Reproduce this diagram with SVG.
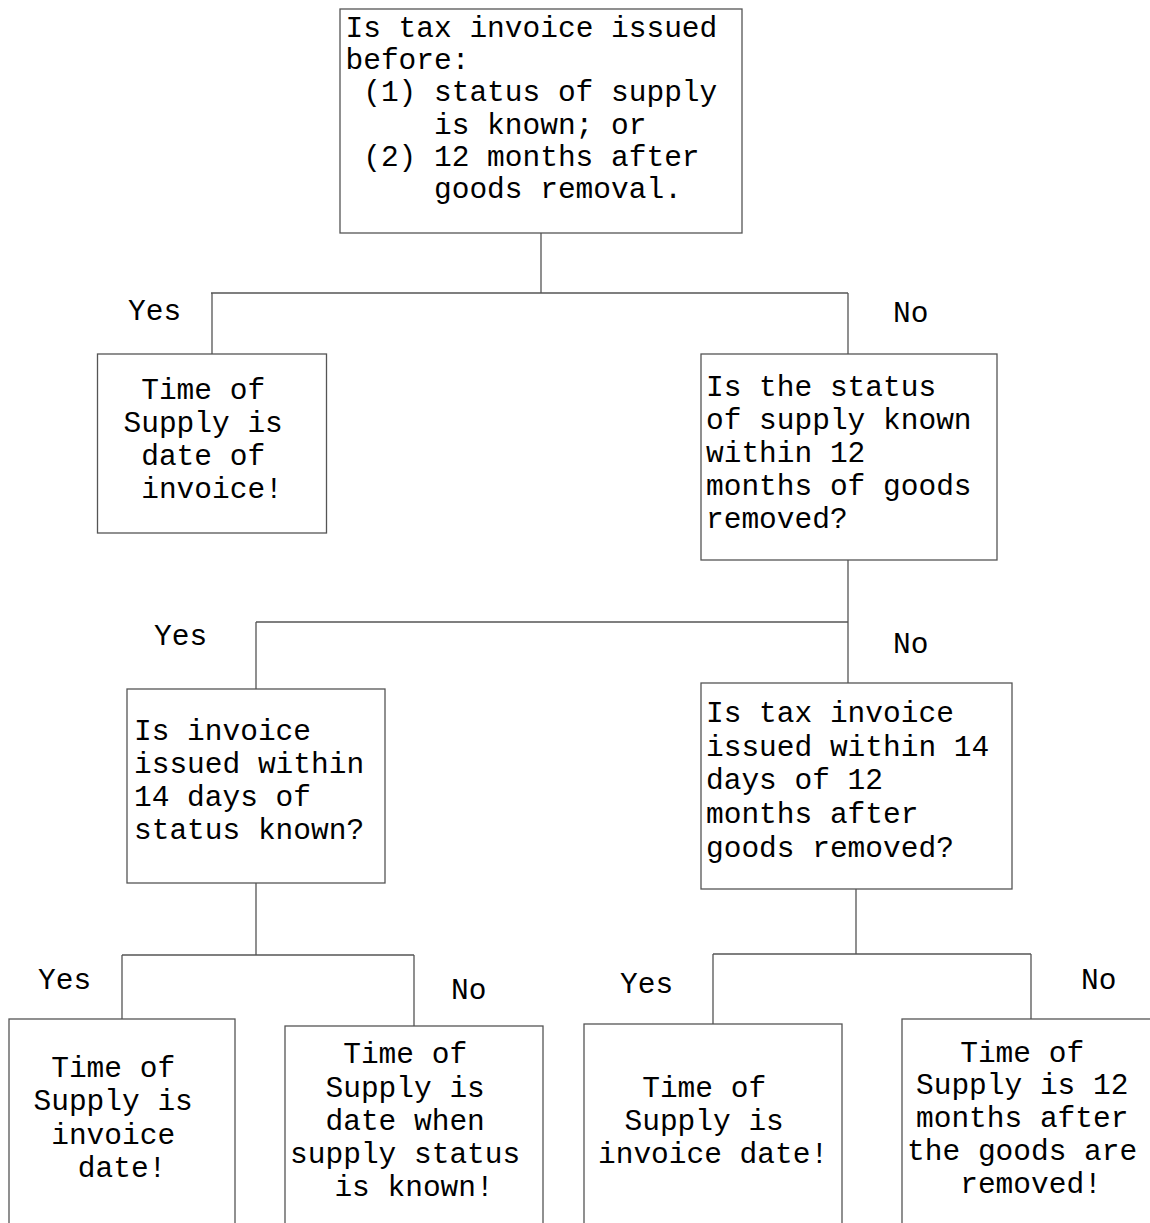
<svg xmlns="http://www.w3.org/2000/svg" width="1150" height="1223" viewBox="0 0 1150 1223">
<style>
.box{fill:#fff;stroke:#555;stroke-width:1.3}
.ln{stroke:#555;stroke-width:1.3;fill:none}
text{font-family:"Liberation Mono","Courier New",monospace;font-size:29.5px;fill:#000}
</style>
<rect x="0" y="0" width="1150" height="1223" fill="#fff"/>
<g id="connectors">
<path class="ln" d="M541,233V293M211,293H848M212,293V354M848,293V354"/>
<path class="ln" d="M848,560V683M256,622H848M256,622V689"/>
<path class="ln" d="M256,883V955M122,955H414M122,955V1019M414,955V1026"/>
<path class="ln" d="M856,889V954M713,954H1031M713,954V1024M1031,954V1019"/>
</g>
<g id="labels">
<text x="128" y="320">Yes</text>
<text x="893" y="322">No</text>
<text x="154" y="645">Yes</text>
<text x="893" y="653">No</text>
<text x="38" y="989">Yes</text>
<text x="451" y="999">No</text>
<text x="620" y="993">Yes</text>
<text x="1081" y="989">No</text>
</g>
<g id="q1">
<rect class="box" x="340" y="9" width="402" height="224"/>
<text x="345.5" y="36.5">Is tax invoice issued</text>
<text x="345.5" y="68.8">before:</text>
<text x="363.2" y="101.2">(1) status of supply</text>
<text x="434" y="133.5">is known; or</text>
<text x="363.2" y="165.9">(2) 12 months after</text>
<text x="434" y="198.2">goods removal.</text>
</g>
<g id="r1">
<rect class="box" x="97.5" y="354" width="229" height="179"/>
<text x="141.2" y="398.5">Time of</text>
<text x="123.5" y="431.5">Supply is</text>
<text x="141.2" y="464.5">date of</text>
<text x="141.2" y="497.5">invoice!</text>
</g>
<g id="q2">
<rect class="box" x="701" y="354" width="296" height="206"/>
<text x="706" y="396">Is the status</text>
<text x="706" y="429">of supply known</text>
<text x="706" y="462">within 12</text>
<text x="706" y="495">months of goods</text>
<text x="706" y="528">removed?</text>
</g>
<g id="q3">
<rect class="box" x="127" y="689" width="258" height="194"/>
<text x="134" y="740">Is invoice</text>
<text x="134" y="773">issued within</text>
<text x="134" y="806">14 days of</text>
<text x="134" y="839">status known?</text>
</g>
<g id="q4">
<rect class="box" x="701" y="683" width="311" height="206"/>
<text x="706" y="722">Is tax invoice</text>
<text x="706" y="755.7">issued within 14</text>
<text x="706" y="789.4">days of 12</text>
<text x="706" y="823">months after</text>
<text x="706" y="856.7">goods removed?</text>
</g>
<g id="r2">
<rect class="box" x="9" y="1019" width="226" height="230"/>
<text x="51.2" y="1077">Time of</text>
<text x="33.5" y="1110">Supply is</text>
<text x="51.2" y="1143.5">invoice</text>
<text x="77.8" y="1177">date!</text>
</g>
<g id="r3">
<rect class="box" x="285" y="1026" width="258" height="230"/>
<text x="343.2" y="1063">Time of</text>
<text x="325.5" y="1096.5">Supply is</text>
<text x="325.5" y="1129.8">date when</text>
<text x="290.1" y="1163">supply status</text>
<text x="334.4" y="1196.3">is known!</text>
</g>
<g id="r4">
<rect class="box" x="584" y="1024" width="258" height="230"/>
<text x="642.2" y="1096.7">Time of</text>
<text x="624.5" y="1130">Supply is</text>
<text x="598" y="1163.3">invoice date!</text>
</g>
<g id="r5">
<rect class="box" x="902" y="1019" width="270" height="230"/>
<text x="960.2" y="1061.5">Time of</text>
<text x="916" y="1094">Supply is 12</text>
<text x="916" y="1127">months after</text>
<text x="907.1" y="1160">the goods are</text>
<text x="960.2" y="1193.3">removed!</text>
</g>
</svg>
